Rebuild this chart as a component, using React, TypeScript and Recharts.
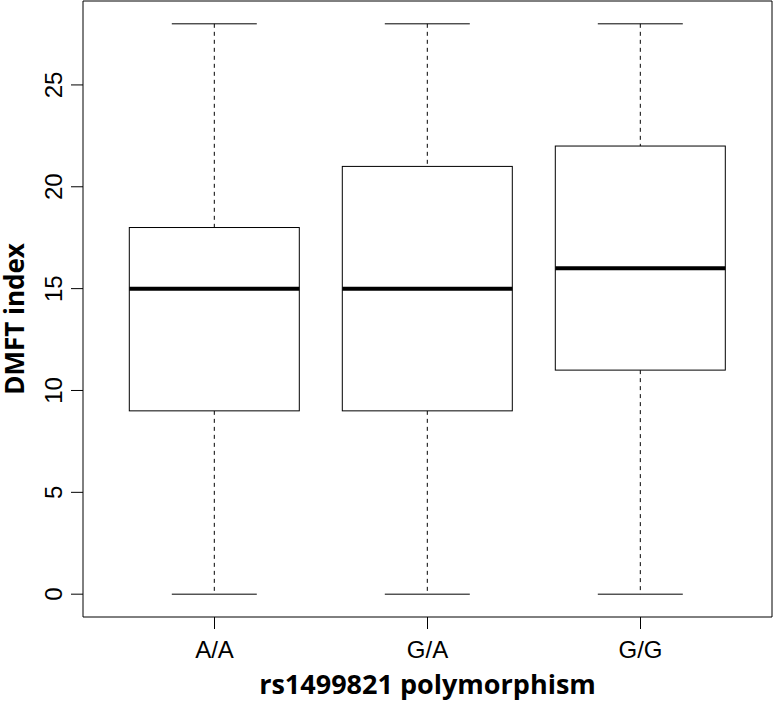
import React from "react";
import { ComposedChart, Bar, Line, XAxis, YAxis } from "recharts";

const categories = ["A/A", "G/A", "G/G"];
const mins = [0, 0, 0];
const q1s = [9, 9, 11];
const medians = [15, 15, 16];
const q3s = [18, 21, 22];
const maxs = [28, 28, 28];
const yTicks = [0, 5, 10, 15, 20, 25];

const data = categories.map((name, i) => ({
  name,
  box: [q1s[i], q3s[i]],
  min: mins[i],
  q1: q1s[i],
  median: medians[i],
  q3: q3s[i],
  max: maxs[i],
}));

const TICK_FONT = "'Liberation Sans', Arial, Helvetica, sans-serif";
const TITLE_FONT = "'Open Sans', 'Noto Sans', sans-serif";

const BoxShape = (props: any) => {
  const { x, y, width, height, payload } = props;
  const p = payload;
  const ppu = height / (p.q3 - p.q1);
  const yOf = (v: number) => y + (p.q3 - v) * ppu;
  const cx = x + width / 2;
  const capHalf = width / 4;
  return (
    <g>
      <line x1={cx} x2={cx} y1={yOf(p.max)} y2={yOf(p.q3)} stroke="#000" strokeWidth={1} strokeDasharray="4 4" />
      <line x1={cx} x2={cx} y1={yOf(p.q1)} y2={yOf(p.min)} stroke="#000" strokeWidth={1} strokeDasharray="4 4" />
      <line x1={cx - capHalf} x2={cx + capHalf} y1={yOf(p.max)} y2={yOf(p.max)} stroke="#000" strokeWidth={1} />
      <line x1={cx - capHalf} x2={cx + capHalf} y1={yOf(p.min)} y2={yOf(p.min)} stroke="#000" strokeWidth={1} />
      <rect x={x} y={y} width={width} height={height} fill="#fff" stroke="#000" strokeWidth={1} />
      <line x1={x} x2={x + width} y1={yOf(p.median)} y2={yOf(p.median)} stroke="#000" strokeWidth={4} />
    </g>
  );
};

const YTick = (props: any) => {
  const { x, y, payload } = props;
  return (
    <text
      transform={`translate(${x},${y}) rotate(-90)`}
      textAnchor="middle"
      fontFamily={TICK_FONT}
      fontSize={24}
      fill="#000"
    >
      {payload.value}
    </text>
  );
};

const XTick = (props: any) => {
  const { x, y, payload } = props;
  return (
    <text x={x} y={y + 17} textAnchor="middle" fontFamily={TICK_FONT} fontSize={24} fill="#000">
      {payload.value}
    </text>
  );
};

export default function App() {
  return (
    <div style={{ position: "absolute", left: 0, top: 0, width: 774, height: 704, background: "#fff" }}>
      <ComposedChart
        width={774}
        height={704}
        data={data}
        margin={{ top: 0, right: 1, left: 0, bottom: 0 }}
        barCategoryGap="10%"
      >
        <XAxis
          dataKey="name"
          xAxisId="main"
          height={87}
          padding={{ left: 25, right: 25 }}
          tickSize={12}
          tickMargin={12}
          tick={<XTick />}
          axisLine={{ stroke: "#000", strokeWidth: 1 }}
          tickLine={{ stroke: "#000", strokeWidth: 1 }}
          label={{
            content: (p: any) => {
              const vb = p.viewBox;
              return (
                <text
                  x={vb.x + vb.width / 2}
                  y={vb.y + 77}
                  textAnchor="middle"
                  fontFamily={TITLE_FONT}
                  fontWeight={700}
                  fontSize={27}
                  fill="#000"
                >
                  rs1499821 polymorphism
                </text>
              );
            },
          }}
        />
        <XAxis
          xAxisId="top"
          orientation="top"
          dataKey="name"
          height={1}
          tick={false}
          tickLine={false}
          axisLine={{ stroke: "#000", strokeWidth: 1 }}
        />
        <YAxis
          yAxisId="main"
          type="number"
          width={83}
          domain={[-1.12, 29.12]}
          ticks={yTicks}
          allowDataOverflow
          tickSize={12}
          tickMargin={9}
          tick={<YTick />}
          axisLine={{ stroke: "#000", strokeWidth: 1 }}
          tickLine={{ stroke: "#000", strokeWidth: 1 }}
          label={{
            content: (p: any) => {
              const vb = p.viewBox;
              return (
                <text
                  transform={`translate(${vb.x + 24},${vb.y + vb.height / 2 + 10}) rotate(-90)`}
                  textAnchor="middle"
                  fontFamily={TITLE_FONT}
                  fontWeight={700}
                  fontSize={26}
                  fill="#000"
                >
                  DMFT index
                </text>
              );
            },
          }}
        />
        <YAxis
          yAxisId="right"
          orientation="right"
          width={1}
          tick={false}
          tickLine={false}
          domain={[-1.12, 29.12]}
          axisLine={{ stroke: "#000", strokeWidth: 1 }}
        />
        <Bar
          dataKey="box"
          xAxisId="main"
          yAxisId="main"
          shape={<BoxShape />}
          isAnimationActive={false}
        />
        <Line
          dataKey="median"
          xAxisId="top"
          yAxisId="right"
          stroke="none"
          dot={false}
          activeDot={false}
          legendType="none"
          isAnimationActive={false}
        />
      </ComposedChart>
    </div>
  );
}
